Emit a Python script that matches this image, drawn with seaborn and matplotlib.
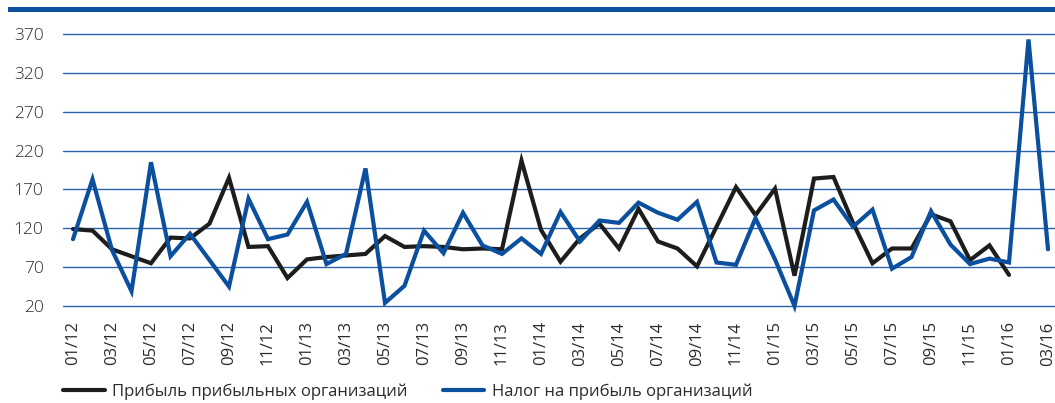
import matplotlib
matplotlib.use("Agg")
import matplotlib.pyplot as plt
from matplotlib.patches import Rectangle
import numpy as np
import pandas as pd
import seaborn as sns

# monthly index 01/12 .. 03/16 (51 months), labels every second month
TICK_LABELS = [
    "01/12", "03/12", "05/12", "07/12", "09/12", "11/12",
    "01/13", "03/13", "05/13", "07/13", "09/13", "11/13",
    "01/14", "03/14", "05/14", "07/14", "09/14", "11/14",
    "01/15", "03/15", "05/15", "07/15", "09/15", "11/15",
    "01/16", "03/16",
]
PROFIT_NAME = "Прибыль прибыльных организаций"
TAX_NAME = "Налог на прибыль организаций"

# ends at 01/16
PROFIT = [
    119, 117, 93, 84, 75, 108, 107, 126, 185, 96, 97, 56,
    80, 83, 85, 87, 110, 96, 97, 96, 93, 94, 93, 207,
    118, 77, 107, 126, 94, 145, 103, 94, 71, 122, 173, 137,
    171, 59, 184, 186, 127, 75, 94, 94, 138, 129, 79, 98,
    60,
]
# ends at 03/16
TAX = [
    106, 183, 92, 39, 205, 84, 113, 79, 45, 158, 106, 112,
    154, 74, 87, 197, 24, 46, 117, 88, 140, 98, 87, 107,
    87, 141, 103, 130, 127, 153, 140, 131, 154, 76, 73, 133,
    80, 20, 143, 157, 122, 144, 68, 83, 142, 99, 74, 81,
    76, 363, 93,
]
Y_TICKS = [20, 70, 120, 170, 220, 270, 320, 370]

BLUE = "#0b4f9f"
BLACK = "#1d1d1b"
GRID = "#2c63ac"
TEXT = "#2b2b2b"


def build_frame() -> pd.DataFrame:
    rows = []
    for i, v in enumerate(PROFIT):
        rows.append({"month": i, "value": v, "series": PROFIT_NAME})
    for i, v in enumerate(TAX):
        rows.append({"month": i, "value": v, "series": TAX_NAME})
    return pd.DataFrame(rows)


def main() -> None:
    sns.set_theme(style="white")
    plt.rcParams["font.family"] = ["Open Sans", "DejaVu Sans"]

    W, H = 1055, 403
    fig = plt.figure(figsize=(W / 100, H / 100), dpi=100)
    ax = fig.add_axes([63 / W, (H - 306) / H, 992 / W, 272 / H])

    data = build_frame()
    sns.lineplot(
        data=data,
        x="month",
        y="value",
        hue="series",
        palette={PROFIT_NAME: BLACK, TAX_NAME: BLUE},
        linewidth=3.0,
        legend=False,
        ax=ax,
    )
    for line in ax.lines:
        line.set_clip_on(False)
        line.set_solid_joinstyle("miter")

    ax.set_ylim(20, 370)
    ax.set_xlim(-10 / 19.5, 50 + 7 / 19.5)
    ax.set_yticks(Y_TICKS)
    ax.set_yticklabels([str(t) for t in Y_TICKS])
    ax.set_xticks(np.arange(0, len(TAX), 2))
    ax.set_xticklabels(TICK_LABELS, rotation=90)
    ax.set_xlabel("")
    ax.set_ylabel("")

    ax.grid(axis="y", color=GRID, linewidth=1.0)
    ax.set_axisbelow(True)
    for gl in ax.yaxis.get_gridlines():
        gl.set_clip_on(False)
    for side in ("top", "right", "bottom", "left"):
        ax.spines[side].set_visible(False)
    ax.tick_params(axis="y", length=0, pad=14, labelsize=12.5, labelcolor=TEXT)
    ax.tick_params(axis="x", length=0, pad=11, labelsize=12, labelcolor=TEXT)
    for lbl in ax.get_yticklabels():
        lbl.set_fontweight("light")

    # thick blue rule at the top
    fig.add_artist(Rectangle((8 / W, (H - 12) / H), (W - 8) / W, 5 / H,
                             transform=fig.transFigure, color=BLUE, lw=0))

    handles = [
        plt.Line2D([], [], color=BLACK, linewidth=3.0),
        plt.Line2D([], [], color=BLUE, linewidth=3.0),
    ]
    fig.legend(
        handles,
        [PROFIT_NAME, TAX_NAME],
        loc="center left",
        bbox_to_anchor=(63 / W, (H - 392) / H),
        ncol=2,
        frameon=False,
        fontsize=12,
        handlelength=2.5,
        handletextpad=0.45,
        columnspacing=2.1,
        borderpad=0,
        borderaxespad=0,
        labelcolor=TEXT,
    )

    fig.savefig("out.png", dpi=100)
    plt.close(fig)


if __name__ == "__main__":
    main()
